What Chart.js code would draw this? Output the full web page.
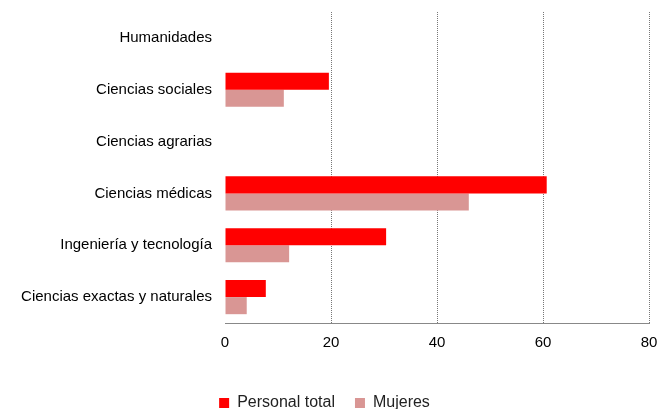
<!DOCTYPE html>
<html>
<head>
<meta charset="utf-8">
<script src="https://cdn.jsdelivr.net/npm/chart.js@4"></script>
<style>
  html, body { margin: 0; padding: 0; background: #fff; }
  #wrap { width: 658px; height: 409px; }
</style>
</head>
<body>
<div id="wrap"><canvas id="chart"></canvas></div>
<script>
'use strict';

// ── Data ──────────────────────────────
const categories = ['Humanidades', 'Ciencias sociales', 'Ciencias agrarias',
                    'Ciencias médicas', 'Ingeniería y tecnología', 'Ciencias exactas y naturales'];
const personalTotal = [0, 19.6, 0, 60.7, 30.4, 7.7];
const mujeres       = [0, 11.1, 0, 46.0, 12.1, 4.1];
const xTicks        = [0, 20, 40, 60, 80];

Chart.defaults.font.family = "'Liberation Sans', Arial, sans-serif";
Chart.defaults.font.size   = 15;
Chart.defaults.color       = '#000';

// drop the automatic label padding, the layout padding below is exact
const noPad = s => { s.paddingTop = s.paddingBottom = s.paddingLeft = s.paddingRight = 0; };

new Chart(document.getElementById('chart').getContext('2d'), {
  type: 'bar',
  data: {
    labels: categories,
    datasets: [
      { label: 'Personal total', data: personalTotal, backgroundColor: '#FF0000',
        categoryPercentage: 0.66, barPercentage: 1 },
      { label: 'Mujeres', data: mujeres, backgroundColor: '#D99694',
        categoryPercentage: 0.66, barPercentage: 1 }
    ]
  },
  options: {
    indexAxis: 'y',
    responsive: true, maintainAspectRatio: false,
    animation: false,
    layout: { autoPadding: false, padding: { left: 0, right: 9, top: 12, bottom: -12 } },
    plugins: {
      tooltip: { enabled: false },
      legend: {
        position: 'bottom',
        labels: { boxWidth: 10, boxHeight: 10, padding: 20, color: '#222',
                  font: { size: 16 } }
      }
    },
    scales: {
      x: {
        min: 0, max: 80,
        afterBuildTicks: s => { s.ticks = xTicks.map(v => ({ value: v })); },
        afterFit: s => { s.height = 52; noPad(s); },
        border: { display: true, color: '#888', width: 1, dash: [1, 1] },
        grid: {
          drawTicks: false,
          color: c => c.tick && c.tick.value === 0 ? 'rgba(0,0,0,0)' : '#777'
        },
        ticks: { padding: 11, font: { size: 15 } }
      },
      y: {
        afterFit: s => { s.width = 225; noPad(s); },
        border: { display: false },
        grid: { display: false, drawTicks: false },
        ticks: { padding: 13, font: { size: 15 } }
      }
    }
  }
});
</script>
</body>
</html>
